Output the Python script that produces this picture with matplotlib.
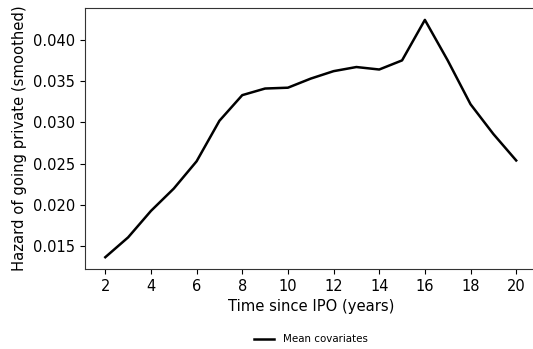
import matplotlib
matplotlib.use("Agg")
from matplotlib import pyplot as plt

# time since IPO (years) and smoothed hazard
years = [2, 3, 4, 5, 6, 7, 8, 9, 10, 11, 12, 13, 14, 15, 16, 17, 18, 19, 20]
hazard = [0.0137, 0.0161, 0.0193, 0.0220, 0.0253, 0.0302, 0.0333, 0.0341, 0.0342,
          0.0353, 0.0362, 0.0367, 0.0364, 0.0375, 0.0424, 0.0375, 0.0322, 0.0286, 0.0254]
xticks = [2, 4, 6, 8, 10, 12, 14, 16, 18, 20]

fig = plt.figure(figsize=(5.33, 3.49), dpi=100)
ax = fig.add_axes([0.159, 0.229, 0.848, 0.748])
ax.plot(years, hazard, color="black", linewidth=1.8, label="Mean covariates")
ax.set_xticks(xticks)
ax.set_xlabel("Time since IPO (years)", fontsize=10.6)
ax.set_ylabel("Hazard of going private (smoothed)", fontsize=10.6)
ax.tick_params(labelsize=10.5)
for s in ax.spines.values():
    s.set_color("#333333")
# the right edge of the frame is cut off in the original
ax.spines["right"].set_visible(False)
ax.legend(loc="upper center", bbox_to_anchor=(0.5, -0.215), frameon=False, fontsize=7.4)
fig.savefig("out.png", dpi=100)
